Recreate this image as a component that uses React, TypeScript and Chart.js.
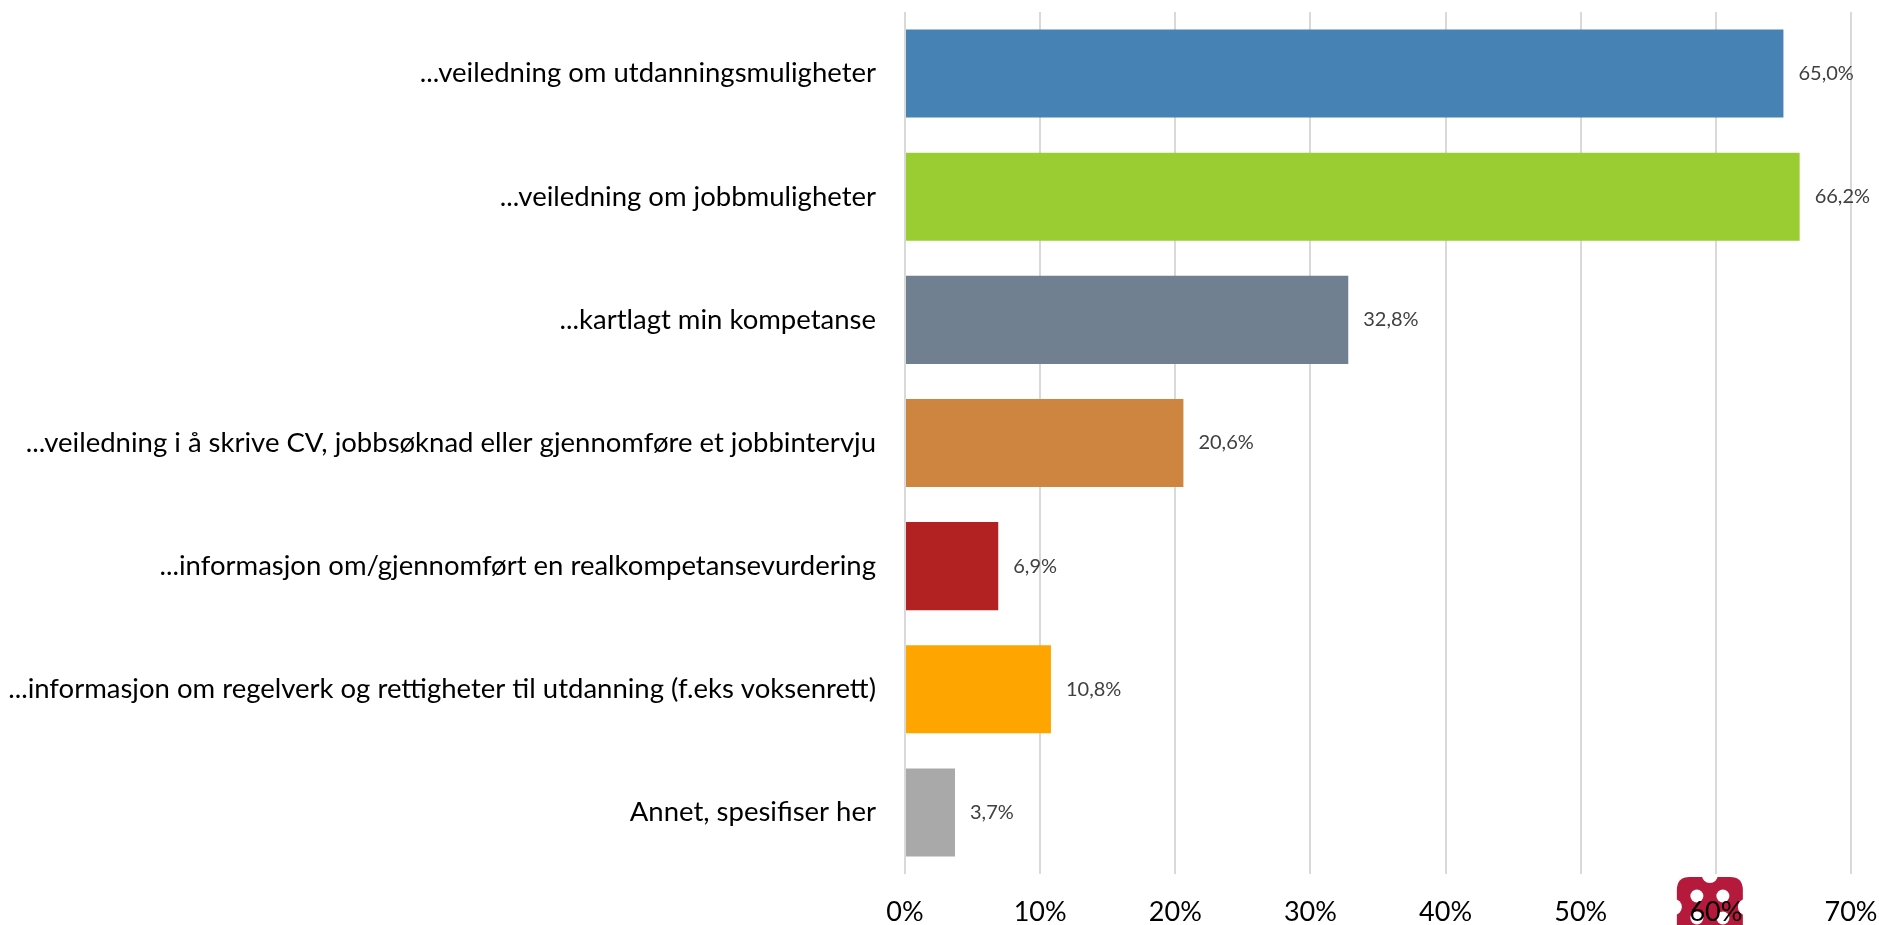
import React, { useEffect, useRef } from "react";
import { Chart, registerables } from "chart.js";

Chart.register(...registerables);

const categories = [
  "...veiledning om utdanningsmuligheter",
  "...veiledning om jobbmuligheter",
  "...kartlagt min kompetanse",
  "...veiledning i å skrive CV, jobbsøknad eller gjennomføre et jobbintervju",
  "...informasjon om/gjennomført en realkompetansevurdering",
  "...informasjon om regelverk og rettigheter til utdanning (f.eks voksenrett)",
  "Annet, spesifiser her",
];
const values = [65.0, 66.2, 32.8, 20.6, 6.9, 10.8, 3.7];
const barColors = ["#4682B4", "#9ACD32", "#708090", "#CD853F", "#B22222", "#FFA500", "#A9A9A9"];
const xTicks = [0, 10, 20, 30, 40, 50, 60, 70];

const FONT = "Lato, 'Open Sans', sans-serif";

const valueLabels = {
  id: "valueLabels",
  afterDatasetsDraw(chart: any) {
    const ctx = chart.ctx;
    const meta = chart.getDatasetMeta(0);
    ctx.save();
    ctx.font = `20px ${FONT}`;
    ctx.fillStyle = "#404040";
    ctx.textAlign = "left";
    ctx.textBaseline = "middle";
    meta.data.forEach((bar: any, i: number) => {
      const txt = values[i].toFixed(1).replace(".", ",") + "%";
      ctx.fillText(txt, bar.x + 15, bar.y);
    });
    ctx.restore();
  },
};

const logo = {
  id: "logo",
  beforeDraw(chart: any) {
    const ctx = chart.ctx;
    const xs = chart.scales.x;
    const cx = xs.getPixelForValue(60) - 6;
    const top = chart.chartArea.bottom + 3;
    const w = 66;
    const h = 62;
    const left = cx - w / 2;
    ctx.save();
    ctx.fillStyle = "#B5193C";
    ctx.beginPath();
    const r = 13;
    ctx.moveTo(left + r, top);
    ctx.lineTo(left + w - r, top);
    ctx.quadraticCurveTo(left + w, top, left + w, top + r);
    ctx.lineTo(left + w, top + h - r);
    ctx.quadraticCurveTo(left + w, top + h, left + w - r, top + h);
    ctx.lineTo(left + r, top + h);
    ctx.quadraticCurveTo(left, top + h, left, top + h - r);
    ctx.lineTo(left, top + r);
    ctx.quadraticCurveTo(left, top, left + r, top);
    ctx.closePath();
    ctx.fill();
    ctx.fillStyle = "#ffffff";
    ctx.beginPath();
    ctx.arc(cx, top - 2, 8, 0, Math.PI * 2);
    ctx.fill();
    ctx.beginPath();
    ctx.arc(left - 3, top + 30, 8, 0, Math.PI * 2);
    ctx.fill();
    ctx.beginPath();
    ctx.arc(left + w + 3, top + 30, 8, 0, Math.PI * 2);
    ctx.fill();
    const hole = (x: number, y: number) => {
      ctx.beginPath();
      ctx.arc(x, y, 6.5, 0, Math.PI * 2);
      ctx.fill();
    };
    hole(cx - 13, top + 19);
    hole(cx + 13, top + 19);
    hole(cx - 13, top + 41);
    hole(cx + 13, top + 41);
    ctx.restore();
  },
};

export default function App() {
  const ref = useRef<HTMLCanvasElement>(null);
  useEffect(() => {
    document.body.style.margin = "0";
    const canvas = ref.current!;
    const chart = new Chart(canvas, {
      type: "bar",
      data: {
        labels: categories,
        datasets: [
          {
            data: values,
            backgroundColor: barColors,
            borderWidth: 0,
            barPercentage: 0.715,
            categoryPercentage: 1,
          },
        ],
      },
      options: {
        indexAxis: "y",
        animation: false,
        responsive: false,
        maintainAspectRatio: false,
        layout: { padding: { top: 12, right: 28, bottom: 0, left: 0 } },
        plugins: { legend: { display: false }, tooltip: { enabled: false } },
        scales: {
          x: {
            min: 0,
            max: 70,
            afterFit(scale: any) {
              scale.height = 51;
              scale.paddingLeft = 0;
              scale.paddingRight = 0;
            },
            afterBuildTicks(scale: any) {
              scale.ticks = xTicks.map((v) => ({ value: v }));
            },
            grid: { color: "#d9d9d9", lineWidth: 2, drawTicks: false },
            border: { display: false },
            ticks: {
              padding: 22,
              color: "#000000",
              font: { family: FONT, size: 27 },
              callback: (v: any) => v + "%",
            },
          },
          y: {
            afterFit(scale: any) {
              scale.width = 905;
              scale.paddingTop = 0;
              scale.paddingBottom = 0;
            },
            grid: { display: false, drawTicks: false },
            border: { display: false },
            ticks: {
              padding: 29,
              color: "#000000",
              font: { family: FONT, size: 27.5 },
            },
          },
        },
      },
      plugins: [valueLabels, logo],
    });
    return () => chart.destroy();
  }, []);
  return <canvas ref={ref} width={1879} height={925} style={{ display: "block" }} />;
}
